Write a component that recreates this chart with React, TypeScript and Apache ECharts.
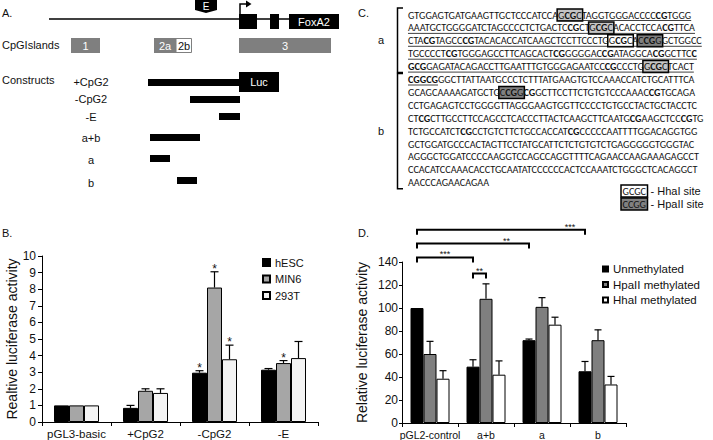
import React, { useEffect, useRef } from 'react';
import * as echarts from 'echarts';

const FONT = "'Liberation Sans', Arial, Helvetica, sans-serif";
const SEQ_FONT = "Carlito, 'Liberation Sans Narrow', 'DejaVu Sans Condensed', 'Liberation Sans', sans-serif";

// ---------- Panel B data ----------
const bCategories = ['pGL3-basic', '+CpG2', '-CpG2', '-E'];
const bNames = ['hESC', 'MIN6', '293T'];
const bHESC = [1, 0.85, 2.97, 3.15];
const bMIN6 = [1, 1.88, 8.1, 3.55];
const b293T = [1, 1.75, 3.78, 3.85];
const bHESCErr = [0, 0.15, 0.12, 0.07];
const bMIN6Err = [0, 0.12, 0.95, 0.15];
const b293TErr = [0, 0.25, 0.85, 1.0];
const bHESCStar = [0, 0, 1, 0];
const bMIN6Star = [0, 0, 1, 1];
const b293TStar = [0, 0, 1, 0];

// ---------- Panel D data ----------
const dCategories = ['pGL2-control', 'a+b', 'a', 'b'];
const dNames = ['Unmethylated', 'HpaII methylated', 'HhaI methylated'];
const dUnmeth = [100, 49, 72, 45];
const dHpaII = [60, 108, 101, 72];
const dHhaI = [38.5, 42, 85.5, 33.5];
const dUnmethErr = [0, 6, 1, 8.5];
const dHpaIIErr = [11, 13, 8, 9];
const dHhaIErr = [7, 12, 6.5, 7];
// significance brackets: [fromCategory, fromBar, toCategory, toBar, level, starCount, labelFraction]
const dBrackets = [
  [0, 0, 3, 0, 168, 3, 0.91],
  [0, 0, 2, 0, 156, 2, 0.8],
  [0, 0, 1, 0, 144, 3, 0.5],
  [1, 0, 1, 1, 130, 2, 0.5],
];

// ---------- Panel C sequence (* bold, _ underline, [] HhaI, () HhaI shaded, {} HpaII) ----------
const seqRowsA = [
  'GTGGAGTGATGAAGTTGCTCCCATCCA_(G*CG*C)TAGGTGGGACCCC*CG*TGGG_',
  '_AAATGCTGGGGATCTAGCCCCTCTGACTC*CG*CT(G*CG*C)ACACCTCCA*CG*TTCA_',
  '_CTA*CG*TAGCC*CG*TACACACCATCAAGCTCCTTCCCTG[G*CG*C]A{C*CG*G}GCTGGCC_',
  '_TGCCCCT*CG*TGGGAGCCTTCAGCACT*CG*GGGGAC*CG*ATAGGCA*CG*GCTTC*C*_',
  '_*GCG*GAGATACAGACCTTGAATTTGTGGGAGAATCC*CG*CCCTG(G*CG*C)TCACT_',
];
const seqRowsB = [
  '_*CGGCG*_GGCTTATTAATGCCCTCTTTATGAAGTGTCCAAACCATCTGCATTTCA',
  'GCAGCAAAAGATGCTG{C*CG*G}*CG*GCTTCCTTCTGTGTCCCAAAC*CG*TGCAGA',
  'CCTGAGAGTCCTGGGGTTAGGGAAGTGGTTCCCCTGTGCCTACTGCTACCTC',
  'CT*CG*CTTGCCTTCCAGCCTCACCCTTACTCAAGCTTCAATG*CG*AAGCTCC*CG*TG',
  'TCTGCCATCT*CG*CCTGTCTTCTGCCACCAT*CG*CCCCCAATTTTGGACAGGTGG',
  'GCTGGATGCCCACTAGTTCCTATGCATTCTCTGTGTCTGAGGGGGTGGGTAC',
  'AGGGCTGGATCCCCAAGGTCCAGCCAGGTTTTCAGAACCAAGAAAGAGCCT',
  'CCACATCCAAACACCTGCAATATCCCCCCACTCCAAATCTGGGCTCACAGGCT',
  'AACCCAGAACAGAA',
];
const seqLegend = [
  ['GCGC', '- HhaI site', 'hha'],
  ['CCGG', '- HpaII site', 'hpa'],
];

// ---------- Panel A data ----------
const constructLabels = ['+CpG2', '-CpG2', '-E', 'a+b', 'a', 'b'];

const B_BAR = 15;
const D_BAR = 13;

type Ch = { c: string; bold: boolean; ul: boolean; box: string | null };

function parseRow(s: string): Ch[] {
  const out: Ch[] = [];
  let bold = false, ul = false;
  let box: string | null = null;
  for (const ch of s) {
    if (ch === '*') bold = !bold;
    else if (ch === '_') ul = !ul;
    else if (ch === '[') box = 'hha';
    else if (ch === '(') box = 'hhaS';
    else if (ch === '{') box = 'hpa';
    else if (ch === ']' || ch === ')' || ch === '}') box = null;
    else out.push({ c: ch, bold, ul, box });
  }
  return out;
}

function buildPanelC(): any[] {
  const canvas = document.createElement('canvas');
  const ctx = canvas.getContext('2d')!;
  const measure = (t: string, bold: boolean, size: number) => {
    ctx.font = `${bold ? 'bold' : 'normal'} ${size}px ${SEQ_FONT}`;
    return ctx.measureText(t).width;
  };
  const rows = [...seqRowsA, ...seqRowsB].map(parseRow);
  let maxW = 0;
  rows.forEach((r) => {
    let wsum = 0;
    r.forEach((ch) => (wsum += measure(ch.c, ch.bold, 10)));
    maxW = Math.max(maxW, wsum);
  });
  const size = (10 * 299) / maxW;
  const x0 = 408;
  const y0 = 15;
  const dy = 12.9;
  const els: any[] = [];
  const boxes: any[] = [];
  const lines: any[] = [];
  const rich = {
    n: { fontSize: size, fontFamily: SEQ_FONT, fontWeight: 'normal', fill: '#111' },
    b: { fontSize: size, fontFamily: SEQ_FONT, fontWeight: 'bold', fill: '#111' },
  };
  rows.forEach((r, ri) => {
    const y = y0 + ri * dy;
    const runs: { text: string; bold: boolean; start: number }[] = [];
    r.forEach((ch, i) => {
      const last = runs[runs.length - 1];
      if (last && last.bold === ch.bold) last.text += ch.c;
      else runs.push({ text: ch.c, bold: ch.bold, start: i });
    });
    const xs: number[] = [];
    const xe: number[] = [];
    let cx = x0;
    runs.forEach((run) => {
      for (let j = 0; j < run.text.length; j++) {
        xs[run.start + j] = cx + measure(run.text.slice(0, j), run.bold, size);
        xe[run.start + j] = cx + measure(run.text.slice(0, j + 1), run.bold, size);
      }
      cx += measure(run.text, run.bold, size);
    });
    let i = 0;
    while (i < r.length) {
      if (r[i].box) {
        const kind = r[i].box;
        let j = i;
        while (j + 1 < r.length && r[j + 1].box === kind) j++;
        boxes.push({
          type: 'rect',
          shape: { x: xs[i] - 1, y: y - 6, width: xe[j] - xs[i] + 2, height: 12 },
          style: {
            fill: kind === 'hpa' ? '#808080' : kind === 'hhaS' ? '#c4c4c4' : '#ffffff',
            stroke: '#000',
            lineWidth: 1.5,
          },
        });
        i = j + 1;
      } else i++;
    }
    i = 0;
    while (i < r.length) {
      if (r[i].ul) {
        let j = i;
        while (j + 1 < r.length && r[j + 1].ul) j++;
        lines.push({
          type: 'line',
          shape: { x1: xs[i], y1: y + 5.5, x2: xe[j], y2: y + 5.5 },
          style: { stroke: '#111', lineWidth: 0.8 },
        });
        i = j + 1;
      } else i++;
    }
    const text = runs.map((run) => `{${run.bold ? 'b' : 'n'}|${run.text}}`).join('');
    els.push({
      type: 'text',
      x: x0,
      y,
      z: 3,
      style: { text, rich, fontSize: size, fontFamily: SEQ_FONT, fill: '#111', align: 'left', verticalAlign: 'middle' },
    });
  });
  const yTopA = y0 - 7;
  const yBotA = y0 + (seqRowsA.length - 1) * dy + 6;
  const yTopB = y0 + seqRowsA.length * dy - 6;
  const yBotB = y0 + (seqRowsA.length + seqRowsB.length - 1) * dy + 6;
  const bracket = (t: number, b: number) => ({
    type: 'polyline',
    shape: { points: [[403, t], [397.5, t], [397.5, b], [403, b]] },
    style: { stroke: '#000', lineWidth: 1.5, fill: null },
  });
  const legendEls: any[] = [];
  seqLegend.forEach((lg, k) => {
    const ly = 191 + k * 13;
    const w = measure(lg[0], false, size);
    legendEls.push({
      type: 'rect',
      shape: { x: 621, y: ly - 6, width: w + 3, height: 12 },
      style: { fill: lg[2] === 'hpa' ? '#808080' : '#fff', stroke: '#000', lineWidth: 1.5 },
    });
    legendEls.push({
      type: 'text', x: 622.5, y: ly, z: 3,
      style: { text: lg[0], fontSize: size, fontFamily: SEQ_FONT, fill: '#111', verticalAlign: 'middle' },
    });
    legendEls.push({
      type: 'text', x: 624 + w + 3, y: ly, z: 3,
      style: { text: lg[1], fontSize: 11, fontFamily: FONT, fill: '#111', verticalAlign: 'middle' },
    });
  });
  return [
    ...boxes,
    ...lines,
    ...els,
    bracket(yTopA, yBotA),
    bracket(yTopB, yBotB),
    { type: 'text', x: 381, y: (yTopA + yBotA) / 2, style: { text: 'a', fontSize: 11, fontFamily: FONT, fill: '#111', align: 'center', verticalAlign: 'middle' } },
    { type: 'text', x: 381, y: (yTopB + yBotB) / 2, style: { text: 'b', fontSize: 11, fontFamily: FONT, fill: '#111', align: 'center', verticalAlign: 'middle' } },
    ...legendEls,
  ];
}

function txt(x: number, y: number, text: string, opts: any = {}) {
  return {
    type: 'text', x, y, z: 5,
    style: {
      text, fontSize: opts.size || 11, fontFamily: FONT, fill: opts.fill || '#111',
      align: opts.align || 'left', verticalAlign: 'middle', fontWeight: opts.weight || 'normal',
    },
  };
}
function rect(x: number, y: number, w: number, h: number, fill: string, stroke?: string) {
  return {
    type: 'rect', shape: { x, y, width: w, height: h },
    style: { fill, stroke: stroke || null, lineWidth: stroke ? 1 : 0 },
  };
}

function buildPanelA(): any[] {
  const g: any[] = [];
  g.push(txt(2, 13, 'A.'));
  g.push({ type: 'line', shape: { x1: 49, y1: 19, x2: 290, y2: 19 }, style: { stroke: '#000', lineWidth: 1.5 } });
  g.push(rect(239, 14, 18, 15, '#000'));
  g.push(rect(270, 14, 9, 15, '#000'));
  g.push(rect(289, 14, 50, 15, '#000'));
  g.push(txt(314, 21.5, 'FoxA2', { fill: '#fff', align: 'center' }));
  g.push({ type: 'polyline', shape: { points: [[240, 14], [240, 4], [247, 4]] }, style: { stroke: '#000', lineWidth: 1.5, fill: null } });
  g.push({ type: 'polygon', shape: { points: [[246, 0.5], [251.5, 4], [246, 7.5]] }, style: { fill: '#000' } });
  g.push({ type: 'polygon', shape: { points: [[195, 0], [217, 0], [217, 10], [206, 13], [195, 10]] }, style: { fill: '#000' } });
  g.push(txt(206, 6, 'E', { fill: '#fff', align: 'center', size: 10 }));

  g.push(txt(2, 45, 'CpGIslands'));
  g.push(rect(71, 38, 29, 15, '#7f7f7f'));
  g.push(txt(85.5, 45.5, '1', { fill: '#fff', align: 'center' }));
  g.push(rect(154, 38, 22, 15, '#7f7f7f'));
  g.push(txt(165, 45.5, '2a', { fill: '#fff', align: 'center' }));
  g.push(rect(176, 38.5, 15.5, 14, '#fff', '#7f7f7f'));
  g.push(txt(184, 45.5, '2b', { align: 'center' }));
  g.push(rect(239, 38, 92, 15, '#7f7f7f'));
  g.push(txt(285, 45.5, '3', { fill: '#fff', align: 'center' }));

  g.push(txt(2, 80, 'Constructs'));
  const labelY = [82, 99, 117, 138, 160, 183];
  constructLabels.forEach((l, i) => g.push(txt(91, labelY[i], l, { align: 'center' })));
  g.push(rect(148, 79, 92, 7, '#000'));
  g.push(rect(239, 72, 40, 20, '#000'));
  g.push(txt(259, 82, 'Luc', { fill: '#fff', align: 'center' }));
  g.push(rect(190, 96, 50, 7, '#000'));
  g.push(rect(219, 113, 21, 7, '#000'));
  g.push(rect(150, 134, 50, 7, '#000'));
  g.push(rect(150, 155, 20, 7, '#000'));
  g.push(rect(177, 177, 20, 7, '#000'));
  return g;
}

function errorRender(barW: number, cap: number) {
  return (params: any, api: any) => {
    const cat = api.value(0);
    const val = api.value(1);
    const err = api.value(2);
    const idx = api.value(3);
    const star = api.value(4);
    const p0 = api.coord([cat, val]);
    const p1 = api.coord([cat, val + err]);
    const x = p0[0] + (idx - 1) * barW;
    const children: any[] = [];
    if (err > 0) {
      children.push({ type: 'line', shape: { x1: x, y1: p0[1], x2: x, y2: p1[1] }, style: { stroke: '#000', lineWidth: 1.2 } });
      children.push({ type: 'line', shape: { x1: x - cap / 2, y1: p1[1], x2: x + cap / 2, y2: p1[1] }, style: { stroke: '#000', lineWidth: 1.2 } });
    }
    if (star) {
      children.push({
        type: 'text', x, y: p1[1] - 3,
        style: { text: '*', fontSize: 12, fontFamily: FONT, fill: '#111', align: 'center', verticalAlign: 'middle' },
      });
    }
    return { type: 'group', children };
  };
}

function bracketRender(barW: number) {
  return (params: any, api: any) => {
    const fc = api.value(0), fb = api.value(1), tc = api.value(2), tb = api.value(3);
    const lvl = api.value(4), n = api.value(5), frac = api.value(6);
    const xa = api.coord([fc, 0])[0] + (fb - 1) * barW;
    const xb = api.coord([tc, 0])[0] + (tb - 1) * barW;
    const y = api.coord([0, lvl])[1];
    return {
      type: 'group',
      children: [
        { type: 'polyline', shape: { points: [[xa, y + 5], [xa, y], [xb, y], [xb, y + 5]] }, style: { stroke: '#000', lineWidth: 2, fill: null } },
        {
          type: 'text', x: xa + (xb - xa) * frac, y: y - 3,
          style: { text: '*'.repeat(n), fontSize: 9, fontFamily: FONT, fill: '#111', align: 'center', verticalAlign: 'middle' },
        },
      ],
    };
  };
}

export default function App() {
  const ref = useRef<HTMLDivElement>(null);
  useEffect(() => {
    if (!ref.current) return;
    const chart = echarts.init(ref.current, null, { renderer: 'svg' });
    const bVals = [bHESC, bMIN6, b293T];
    const bErrs = [bHESCErr, bMIN6Err, b293TErr];
    const bStars = [bHESCStar, bMIN6Star, b293TStar];
    const bColors = ['#000000', '#a6a6a6', '#f4f4f4'];
    const dVals = [dUnmeth, dHpaII, dHhaI];
    const dErrs = [dUnmethErr, dHpaIIErr, dHhaIErr];
    const dColors = ['#000000', '#7f7f7f', '#ffffff'];

    const bErrData: number[][] = [];
    bVals.forEach((vals, s) => vals.forEach((v, c) => bErrData.push([c, v, bErrs[s][c], s, bStars[s][c]])));
    const dErrData: number[][] = [];
    dVals.forEach((vals, s) => vals.forEach((v, c) => dErrData.push([c, v, dErrs[s][c], s, 0])));

    const axisCommon = {
      axisLine: { show: true, lineStyle: { color: '#000', width: 1 } },
      axisTick: { show: true, length: 4, lineStyle: { color: '#000' } },
      splitLine: { show: false },
    };

    const option: any = {
      animation: false,
      textStyle: { fontFamily: FONT, color: '#111' },
      grid: [
        { left: 42, top: 256, width: 276, height: 167 },
        { left: 402, top: 262, width: 224, height: 162 },
      ],
      xAxis: [
        { type: 'category', gridIndex: 0, data: bCategories, ...axisCommon, axisLabel: { interval: 0, fontSize: 11.5, color: '#111', margin: 6 } },
        { type: 'category', gridIndex: 1, data: dCategories, ...axisCommon, axisLabel: { interval: 0, fontSize: 10.5, color: '#111', margin: 6 } },
      ],
      yAxis: [
        {
          type: 'value', gridIndex: 0, min: 0, max: 10, interval: 1, ...axisCommon,
          axisLabel: { fontSize: 12, color: '#111', margin: 6 },
          name: 'Realtive luciferase activity', nameLocation: 'middle', nameRotate: 90, nameGap: 20,
          nameTextStyle: { fontSize: 14, color: '#111' },
        },
        {
          type: 'value', gridIndex: 1, min: 0, max: 140, interval: 20, ...axisCommon,
          axisTick: { show: true, length: 3, lineStyle: { color: '#000' } },
          axisLabel: { fontSize: 12, color: '#111', margin: 4 },
          name: 'Relative luciferase activity', nameLocation: 'middle', nameRotate: 90, nameGap: 33,
          nameTextStyle: { fontSize: 14, color: '#111' },
        },
      ],
      legend: [
        {
          data: bNames, orient: 'vertical', left: 257, top: 252, itemWidth: 7, itemHeight: 7, itemGap: 5.5,
          icon: 'rect', textStyle: { fontSize: 11, color: '#111' }, selectedMode: false,
        },
        {
          data: dNames, orient: 'vertical', left: 597, top: 258, itemWidth: 5, itemHeight: 5, itemGap: 3.5,
          icon: 'rect', textStyle: { fontSize: 11.5, color: '#111' }, selectedMode: false,
        },
      ],
      series: [
        ...bNames.map((n, s) => ({
          name: n, type: 'bar', xAxisIndex: 0, yAxisIndex: 0, data: bVals[s], barWidth: B_BAR, barGap: '0%',
          itemStyle: { color: bColors[s], borderColor: '#000', borderWidth: 1 },
        })),
        ...dNames.map((n, s) => ({
          name: n, type: 'bar', xAxisIndex: 1, yAxisIndex: 1, data: dVals[s], barWidth: D_BAR, barGap: '0%',
          itemStyle: { color: dColors[s], borderColor: '#000', borderWidth: 1 },
        })),
        {
          name: 'errB', type: 'custom', xAxisIndex: 0, yAxisIndex: 0, data: bErrData, clip: false,
          encode: { x: 0, y: 1 }, renderItem: errorRender(B_BAR, 8), z: 5,
        },
        {
          name: 'errD', type: 'custom', xAxisIndex: 1, yAxisIndex: 1, data: dErrData, clip: false,
          encode: { x: 0, y: 1 }, renderItem: errorRender(D_BAR, 7), z: 5,
        },
        {
          name: 'bracketsD', type: 'custom', xAxisIndex: 1, yAxisIndex: 1, data: dBrackets, clip: false,
          encode: { x: 0, y: 4 }, renderItem: bracketRender(D_BAR), z: 5,
        },
      ],
      graphic: [
        ...buildPanelA(),
        ...buildPanelC(),
        txt(358, 13, 'C.'),
        txt(2, 233, 'B.'),
        txt(358, 233, 'D.'),
      ],
    };
    chart.setOption(option);
    return () => chart.dispose();
  }, []);
  return <div ref={ref} style={{ position: 'absolute', left: 0, top: 0, width: 713, height: 440, background: '#fff' }} />;
}
